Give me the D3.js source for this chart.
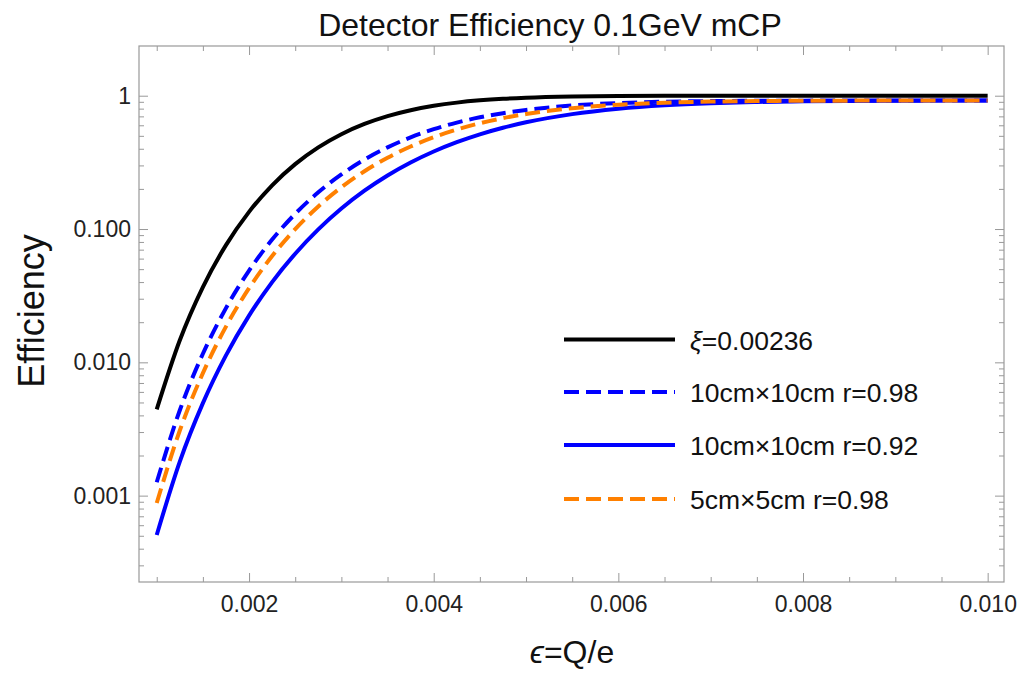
<!DOCTYPE html>
<html>
<head>
<meta charset="utf-8">
<script src="https://cdn.jsdelivr.net/npm/d3@7"></script>
<style>
  html, body { margin: 0; padding: 0; background: #fff; }
  svg { display: block; font-family: "Liberation Sans", Arial, sans-serif; }
</style>
</head>
<body>
<svg id="chart" width="1032" height="673"></svg>
<script>
// ---- data ----
const epsValues = [0.001, 0.00125, 0.0015, 0.00175, 0.002, 0.00225, 0.0025, 0.00275, 0.003, 0.00325,
  0.0035, 0.00375, 0.004, 0.00425, 0.0045, 0.00475, 0.005, 0.0055, 0.006, 0.0065,
  0.007, 0.0075, 0.008, 0.0085, 0.009, 0.0095, 0.010];

const effXi = [0.00444, 0.01464, 0.0367, 0.0757, 0.1345, 0.2128, 0.3068, 0.4098, 0.5145, 0.6139,
  0.7029, 0.7785, 0.8398, 0.8874, 0.9230, 0.9487, 0.9667, 0.9869, 0.9953, 0.9985,
  0.9995, 0.9999, 1.0, 1.0, 1.0, 1.0, 1.0];

const eff10r98 = [0.00126, 0.00437, 0.0116, 0.0255, 0.0488, 0.0833, 0.1301, 0.1886, 0.2568, 0.3317,
  0.4098, 0.4874, 0.5612, 0.6287, 0.6884, 0.7397, 0.7822, 0.8439, 0.8808, 0.9011,
  0.9114, 0.9163, 0.9185, 0.9194, 0.9198, 0.9199, 0.9200];

const eff10r92 = [0.000507, 0.00180, 0.00494, 0.01127, 0.0224, 0.0400, 0.0653, 0.0994, 0.1424, 0.1937,
  0.2519, 0.3152, 0.3813, 0.4480, 0.5131, 0.5748, 0.6316, 0.7277, 0.7988, 0.8476,
  0.8789, 0.8977, 0.9085, 0.9143, 0.9173, 0.9188, 0.9195];

const eff5r98 = [0.00088, 0.00308, 0.00830, 0.01854, 0.0360, 0.0627, 0.0999, 0.1478, 0.2056, 0.2713,
  0.3424, 0.4158, 0.4885, 0.5579, 0.6218, 0.6789, 0.7286, 0.8054, 0.8556, 0.8859,
  0.9030, 0.9120, 0.9164, 0.9185, 0.9194, 0.9198, 0.9199];

const seriesNames = ["ξ=0.00236", "10cm×10cm r=0.98", "10cm×10cm r=0.92", "5cm×5cm r=0.98"];

const xMajorTicks = [0.002, 0.004, 0.006, 0.008, 0.010];
const xTickLabels = ["0.002", "0.004", "0.006", "0.008", "0.010"];
const xMinorTicks = [0.001, 0.0015, 0.0025, 0.003, 0.0035, 0.0045, 0.005, 0.0055, 0.0065, 0.007, 0.0075, 0.0085, 0.009, 0.0095];
const yMajorTicks = [0.001, 0.01, 0.1, 1];
const yTickLabels = ["0.001", "0.010", "0.100", "1"];

const titleText = "Detector Efficiency 0.1GeV mCP";
const yLabelText = "Efficiency";

// ---- layout ----
const L = 139, R = 1004, T = 46, B = 582;
const svg = d3.select("#chart");
const frameColor = "#999";
const textColor = "#222";

const x = d3.scaleLinear().domain([0.000808, 0.010177]).range([L, R]);
const y = d3.scaleLog().domain([2.25e-4, 2.36]).range([B, T]);

const yMinorTicks = y.ticks().filter(v => v < 0.999 && !yMajorTicks.some(m => Math.abs(m - v) / m < 1e-6));

// axes (ticks pointing inward)
function styleAxis(g) {
  g.select(".domain").remove();
  g.selectAll(".tick line").attr("stroke", frameColor).attr("stroke-width", 1);
  g.selectAll(".tick text").attr("fill", textColor).style("font-size", "23px")
    .style("font-family", "'Liberation Sans', Arial, sans-serif");
}

// bottom
svg.append("g").attr("transform", `translate(0,${B})`)
  .call(d3.axisBottom(x).tickValues(xMinorTicks).tickSize(-5).tickFormat(""))
  .call(styleAxis);
svg.append("g").attr("transform", `translate(0,${B})`)
  .call(d3.axisBottom(x).tickValues(xMajorTicks).tickSize(-9).tickPadding(14)
    .tickFormat((d, i) => xTickLabels[i]))
  .call(styleAxis);
// top
svg.append("g").attr("transform", `translate(0,${T})`)
  .call(d3.axisTop(x).tickValues(xMinorTicks).tickSize(-5).tickFormat(""))
  .call(styleAxis);
svg.append("g").attr("transform", `translate(0,${T})`)
  .call(d3.axisTop(x).tickValues(xMajorTicks).tickSize(-9).tickFormat(""))
  .call(styleAxis);
// left
svg.append("g").attr("transform", `translate(${L},0)`)
  .call(d3.axisLeft(y).tickValues(yMinorTicks).tickSize(-5).tickFormat(""))
  .call(styleAxis);
svg.append("g").attr("transform", `translate(${L},0)`)
  .call(d3.axisLeft(y).tickValues(yMajorTicks).tickSize(-9).tickPadding(8)
    .tickFormat((d, i) => yTickLabels[i]))
  .call(styleAxis);
// right
svg.append("g").attr("transform", `translate(${R},0)`)
  .call(d3.axisRight(y).tickValues(yMinorTicks).tickSize(-5).tickFormat(""))
  .call(styleAxis);
svg.append("g").attr("transform", `translate(${R},0)`)
  .call(d3.axisRight(y).tickValues(yMajorTicks).tickSize(-9).tickFormat(""))
  .call(styleAxis);

// frame
svg.append("rect").attr("x", L).attr("y", T).attr("width", R - L).attr("height", B - T)
  .attr("fill", "none").attr("stroke", frameColor).attr("stroke-width", 1.2);

// curves
const series = [
  { name: seriesNames[0], values: effXi, color: "#000000", dash: null },
  { name: seriesNames[1], values: eff10r98, color: "#0000ff", dash: "15,7" },
  { name: seriesNames[2], values: eff10r92, color: "#0000ff", dash: null },
  { name: seriesNames[3], values: eff5r98, color: "#ff8000", dash: "15,7" }
];

const line = d3.line()
  .x(d => x(d[0])).y(d => y(d[1]))
  .curve(d3.curveMonotoneX);

svg.append("defs").append("clipPath").attr("id", "plotclip")
  .append("rect").attr("x", L).attr("y", T).attr("width", R - L).attr("height", B - T);

const plotG = svg.append("g").attr("clip-path", "url(#plotclip)");
series.forEach(s => {
  plotG.append("path")
    .datum(epsValues.map((e, i) => [e, s.values[i]]))
    .attr("d", line)
    .attr("fill", "none")
    .attr("stroke", s.color)
    .attr("stroke-width", 4)
    .attr("stroke-dasharray", s.dash)
    .attr("stroke-linejoin", "round");
});

// legend
const legX1 = 564, legX2 = 675, legTextX = 690;
const legRows = [339.5, 392, 445, 499];
series.forEach((s, i) => {
  svg.append("line")
    .attr("x1", legX1).attr("x2", legX2).attr("y1", legRows[i]).attr("y2", legRows[i])
    .attr("stroke", s.color).attr("stroke-width", 4)
    .attr("stroke-dasharray", s.dash);
  const t = svg.append("text")
    .attr("x", legTextX).attr("y", legRows[i] + 10)
    .attr("fill", "#111").style("font-size", "26.5px");
  if (i === 0) {
    t.append("tspan").style("font-style", "italic").text(s.name.slice(0, 1));
    t.append("tspan").text(s.name.slice(1));
  } else {
    t.text(s.name);
  }
});

// title
svg.append("text").attr("x", 550).attr("y", 36).attr("text-anchor", "middle")
  .attr("fill", "#111").style("font-size", "32px").text(titleText);

// x label
const xl = svg.append("text").attr("x", 572).attr("y", 663).attr("text-anchor", "middle")
  .attr("fill", "#111").style("font-size", "32px");
xl.append("tspan").style("font-style", "italic").text("ϵ");
xl.append("tspan").text("=Q/e");

// y label
svg.append("text").attr("transform", "translate(44,311) rotate(-90)")
  .attr("text-anchor", "middle").attr("fill", "#111").style("font-size", "36px")
  .text(yLabelText);
</script>
</body>
</html>
